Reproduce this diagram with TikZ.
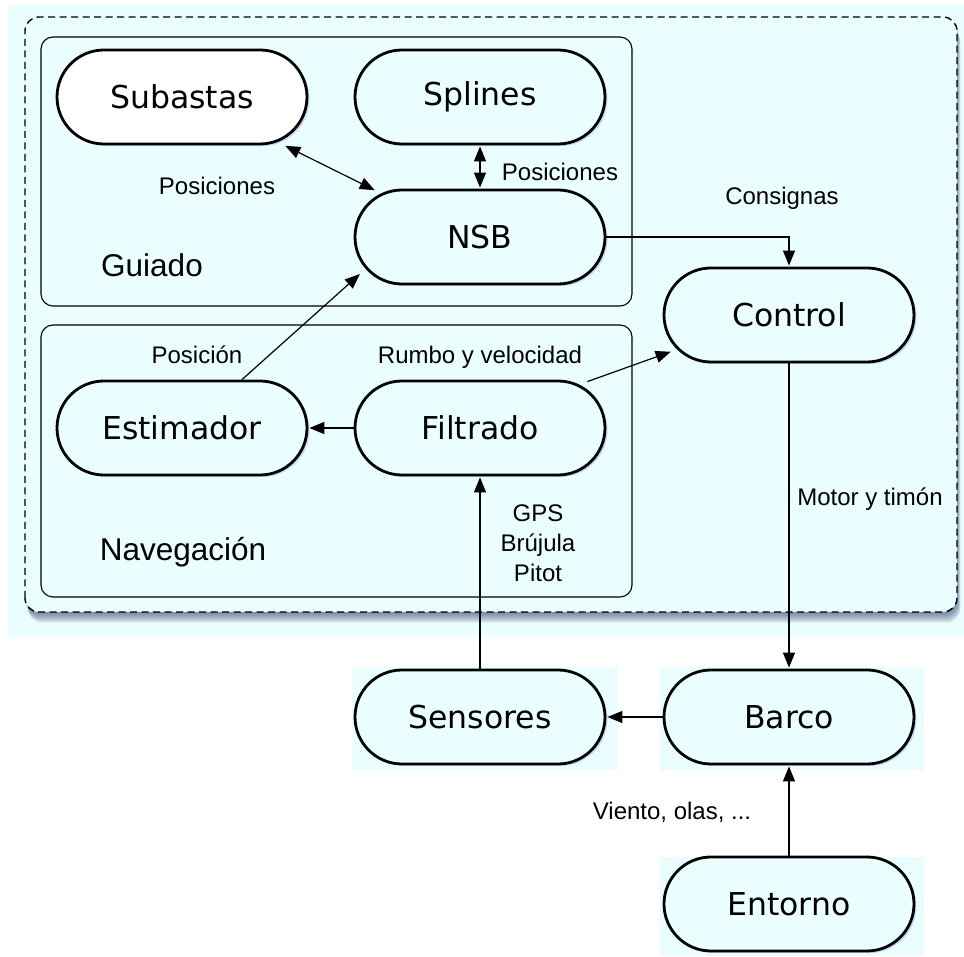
\documentclass[tikz,border=0pt]{standalone}
\usepackage{fontspec}
\setmainfont{Liberation Sans}
\newfontfamily\boxfont{DejaVu Sans}
\usetikzlibrary{arrows.meta,shadows}

\definecolor{paleblue}{RGB}{235,254,255}
\definecolor{shadowtone}{RGB}{55,65,110}
\definecolor{halo}{RGB}{150,170,235}

\tikzset{
  block/.style={draw, line width=2.8pt, rounded corners=47pt,
    minimum width=250pt, minimum height=94pt, fill=paleblue,
    font=\boxfont\fontsize{31.5}{36}\selectfont,
    drop shadow={shadow xshift=2.5pt, shadow yshift=-2pt, fill=halo, opacity=0.45}},
  panel/.style={draw, line width=1.1pt, rounded corners=12pt},
  flow/.style={-{Triangle[length=15pt,width=12pt]}, line width=1.2pt, shorten >=1pt},
  twoway/.style={{Triangle[length=15pt,width=12pt]}-{Triangle[length=15pt,width=12pt]},
    line width=1.2pt, shorten >=1pt, shorten <=1pt},
  lbl/.style={font=\fontsize{24}{30}\selectfont, align=center, inner sep=0pt},
  heading/.style={font=\fontsize{31.5}{36}\selectfont, inner sep=0pt},
}

\begin{document}
\begin{tikzpicture}[x=1pt,y=1pt]
\useasboundingbox (0,0) rectangle (964,956);

% pale backdrop of the controller
\fill[paleblue] (8,319) rectangle (964,951);

% soft shadow below the dashed controller frame
\foreach \k in {1,...,11}
  \fill[shadowtone, opacity=0.08, rounded corners=14pt]
    (25+0.3*\k,344-\k) rectangle (957+0.3*\k,939-\k);

% dashed controller frame
\draw[fill=paleblue, line width=1.4pt, dash pattern=on 7pt off 4.5pt, rounded corners=14pt]
  (25,344) rectangle (957,939);

% subsystem panels
\draw[panel] (41,650) rectangle (632,919);
\draw[panel] (41,359) rectangle (632,631);

% pale tiles behind the plant blocks
\fill[paleblue] (352,186) rectangle (618,289);
\fill[paleblue] (660,186) rectangle (924,289);
\fill[paleblue] (660,0) rectangle (924,99);

% blocks
\node[block, fill=white] (sub) at (182,859) {Subastas};
\node[block] (spl) at (480,859) {Splines};
\node[block] (nsb) at (480,719) {NSB};
\node[block] (ctrl) at (789,641) {Control};
\node[block] (est) at (182,528) {Estimador};
\node[block] (filt) at (480,528) {Filtrado};
\node[block] (sens) at (480,239) {Sensores};
\node[block] (barco) at (789,239) {Barco};
\node[block] (ent) at (789,52) {Entorno};

% panel titles
\node[heading] (tguiado) at (152,691) {Guiado};
\node[heading] (tnav) at (183,404) {Navegación};

% connectors
\draw[twoway] ([xshift=-24pt]sub.south east) -- ([xshift=22pt,yshift=-2pt]nsb.north west);
\draw[twoway] (spl.south) -- (nsb.north);
\draw[flow] (nsb.east) -| (ctrl.north);
\draw[flow] ([xshift=60pt]est.north) -- ([xshift=7pt,yshift=12pt]nsb.south west);
\draw[flow] ([xshift=-19pt,yshift=-2pt]filt.north east) -- ([xshift=9pt,yshift=12pt]ctrl.south west);
\draw[flow] (filt.west) -- (est.east);
\draw[flow] (sens.north) -- (filt.south);
\draw[flow] (ctrl.south) -- (barco.north);
\draw[flow] (barco.west) -- (sens.east);
\draw[flow] (ent.north) -- (barco.south);

% connector labels
\node[lbl] (lpos1) at (217,770) {Posiciones};
\node[lbl] (lpos2) at (560,784) {Posiciones};
\node[lbl] (lcons) at (782,758) {Consignas};
\node[lbl] (lposc) at (197,601) {Posición};
\node[lbl] (lrumbo) at (480,599) {Rumbo y velocidad};
\node[lbl] (lsens) at (538,413) {GPS\\Brújula\\Pitot};
\node[lbl] (lmotor) at (870,457) {Motor y timón};
\node[lbl] (lviento) at (672,144) {Viento, olas, ...};
\end{tikzpicture}
\end{document}
